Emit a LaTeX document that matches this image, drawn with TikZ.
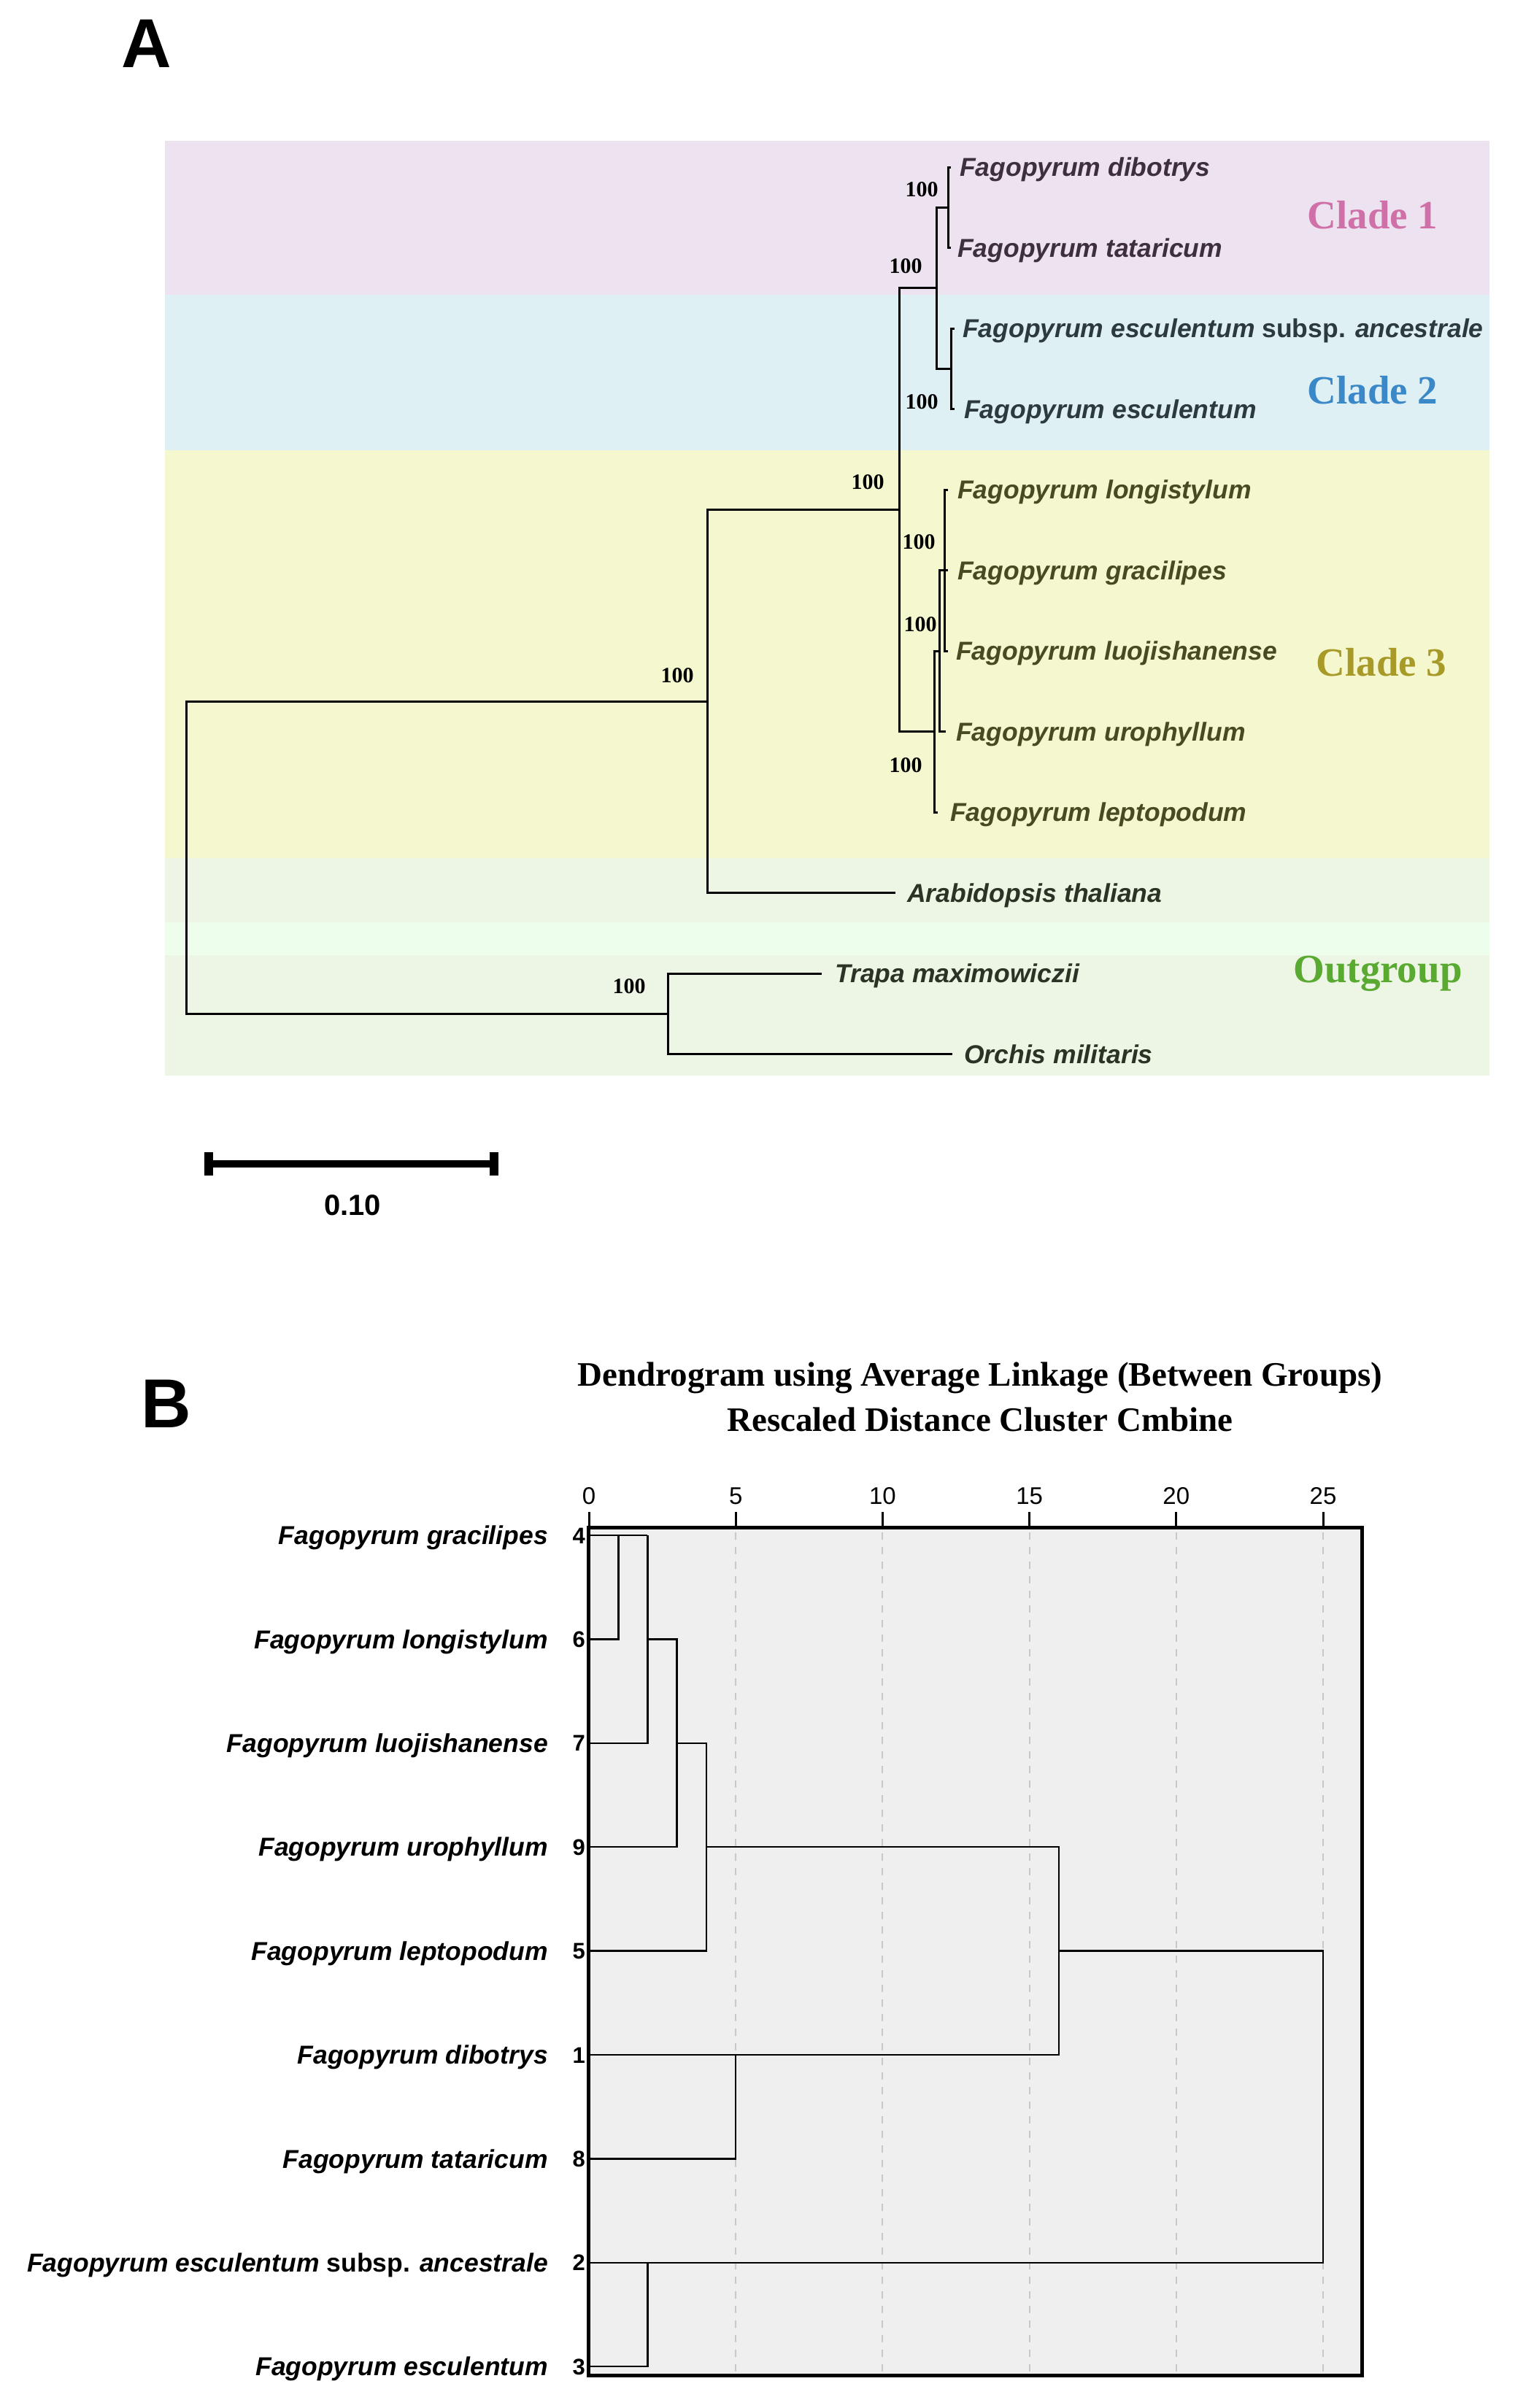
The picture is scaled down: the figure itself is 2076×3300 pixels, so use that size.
\documentclass[tikz,border=0pt]{standalone}
\usepackage{fontspec}
\setmainfont{Liberation Serif}
\setsansfont{Liberation Sans}
\newfontfamily\arialf{Liberation Sans}
\definecolor{bpur}{HTML}{EDE2EF}
\definecolor{bblu}{HTML}{DFF0F5}
\definecolor{byel}{HTML}{F5F7CF}
\definecolor{bgrn}{HTML}{EDF5E5}
\definecolor{bgrl}{HTML}{EDFEEC}
\definecolor{cpink}{HTML}{D070A8}
\definecolor{cblue}{HTML}{3A88C8}
\definecolor{colive}{HTML}{A89A28}
\definecolor{cgreen}{HTML}{5AAA32}
\definecolor{tone}{HTML}{3D2F3D}
\definecolor{ttwo}{HTML}{2C3A3E}
\definecolor{tthree}{HTML}{4A4A22}
\definecolor{tfour}{HTML}{2B3326}
\definecolor{boxgray}{HTML}{EFEFEF}
\definecolor{gridgray}{HTML}{C8C8C8}
\tikzset{
  leaf/.style={anchor=base west, inner sep=0pt, font=\arialf\bfseries\itshape\fontsize{35.5}{40}\selectfont},
  rowlab/.style={anchor=base east, inner sep=0pt, font=\arialf\bfseries\itshape\fontsize{35.5}{40}\selectfont},
  rownum/.style={anchor=base east, inner sep=0pt, font=\arialf\bfseries\fontsize{31}{33}\selectfont},
  boot/.style={anchor=center, inner sep=0pt, font=\bfseries\fontsize{30}{31}\selectfont},
  cladelab/.style={anchor=base, inner sep=0pt, font=\bfseries\fontsize{55}{60}\selectfont},
  panel/.style={anchor=center, inner sep=0pt, font=\arialf\bfseries\fontsize{95}{100}\selectfont},
  branch/.style={line width=3pt, line join=miter},
  dend/.style={line width=2.5pt, line join=miter},
  ticklab/.style={anchor=center, inner sep=0pt, font=\arialf\fontsize{33}{35}\selectfont},
  title/.style={anchor=base, inner sep=0pt, font=\bfseries\fontsize{47}{52}\selectfont},
}
\begin{document}
\begin{tikzpicture}[x=1pt,y=-1pt]
\useasboundingbox[fill=white] (0,0) rectangle (2076,3300);

% ---------------- Panel A ----------------
\node[panel] (labA) at (200.5,60) {A};

% background bands
\fill[bpur] (226,193) rectangle (2041,404);
\fill[bblu] (226,404) rectangle (2041,617);
\fill[byel] (226,617) rectangle (2041,1176);
\fill[bgrn] (226,1176) rectangle (2041,1264);
\fill[bgrl] (226,1264) rectangle (2041,1309);
\fill[bgrn] (226,1309) rectangle (2041,1474);

% leaf tips
\coordinate (t-dib) at (1303,229);
\coordinate (t-tat) at (1303,339.5);
\coordinate (t-anc) at (1308,450);
\coordinate (t-esc) at (1308,560.5);
\coordinate (t-lon) at (1299,671);
\coordinate (t-gra) at (1299,781.5);
\coordinate (t-luo) at (1299,892);
\coordinate (t-uro) at (1296,1002.5);
\coordinate (t-lep) at (1285,1113);
\coordinate (t-ara) at (1226.5,1223.5);
\coordinate (t-tra) at (1126,1334);
\coordinate (t-orc) at (1305,1444.5);

% internal nodes
\coordinate (n1) at (1299,284.25);
\coordinate (n2) at (1303.5,505.25);
\coordinate (n12) at (1283.5,394.75);
\coordinate (n3a) at (1294,781.5);
\coordinate (n3b) at (1287,892);
\coordinate (n3c) at (1280.5,1002.5);
\coordinate (n123) at (1232,698.6);
\coordinate (na) at (969.5,961);
\coordinate (no) at (915,1389.25);
\coordinate (root) at (255.6,1175);

% branches
\draw[branch] (t-dib) -| (n1) |- (t-tat);
\draw[branch] (t-anc) -| (n2) |- (t-esc);
\draw[branch] (n1) -| (n12) |- (n2);
\draw[branch] (t-lon) -| (n3a) |- (t-luo);
\draw[branch] (n3a) -- (t-gra);
\draw[branch] (n3a) -| (n3b) |- (t-uro);
\draw[branch] (n3b) -| (n3c) |- (t-lep);
\draw[branch] (n12) -| (n123) |- (n3c);
\draw[branch] (n123) -| (na) |- (t-ara);
\draw[branch] (t-tra) -| (no) |- (t-orc);
\draw[branch] (na) -| (root) |- (no);

% leaf labels
\node[leaf, text=tone] (l-dib) at (1315,241.7) {Fagopyrum dibotrys};
\node[leaf, text=tone] (l-tat) at (1312,352.2) {Fagopyrum tataricum};
\node[leaf, text=ttwo] (l-anc) at (1319,462.7) {Fagopyrum esculentum \upshape subsp. \itshape ancestrale};
\node[leaf, text=ttwo] (l-esc) at (1321,573.2) {Fagopyrum esculentum};
\node[leaf, text=tthree] (l-lon) at (1312,683.7) {Fagopyrum longistylum};
\node[leaf, text=tthree] (l-gra) at (1312,794.2) {Fagopyrum gracilipes};
\node[leaf, text=tthree] (l-luo) at (1310,904.7) {Fagopyrum luojishanense};
\node[leaf, text=tthree] (l-uro) at (1310,1015.2) {Fagopyrum urophyllum};
\node[leaf, text=tthree] (l-lep) at (1302,1125.7) {Fagopyrum leptopodum};
\node[leaf, text=tfour] (l-ara) at (1243,1236.2) {Arabidopsis thaliana};
\node[leaf, text=tfour] (l-tra) at (1144,1346.7) {Trapa maximowiczii};
\node[leaf, text=tfour] (l-orc) at (1321,1457.2) {Orchis militaris};

% bootstrap values
\node[boot] (b1) at (1263,260) {100};
\node[boot] (b12) at (1241,365) {100};
\node[boot] (b2) at (1263,551) {100};
\node[boot] (b123) at (1189,661) {100};
\node[boot] (b3a) at (1259,743) {100};
\node[boot] (b3b) at (1261,856) {100};
\node[boot] (b3c) at (1241,1049) {100};
\node[boot] (bA) at (928,926) {100};
\node[boot] (bO) at (862,1352) {100};

% clade labels
\node[cladelab, text=cpink] (c1) at (1881,313) {Clade 1};
\node[cladelab, text=cblue] (c2) at (1881,553) {Clade 2};
\node[cladelab, text=colive] (c3) at (1893,926) {Clade 3};
\node[cladelab, text=cgreen] (c4) at (1888,1346) {Outgroup};

% scale bar
\fill (279.5,1590) rectangle (683,1600);
\fill (279.5,1579) rectangle (292,1611);
\fill (671,1579) rectangle (683,1611);
\node[anchor=center, inner sep=0pt, font=\arialf\bfseries\fontsize{40}{42}\selectfont] (sbar) at (483,1652) {0.10};

% ---------------- Panel B ----------------
\node[panel] (labB) at (227.5,1924) {B};
\node[title] (ti1) at (1343,1899) {Dendrogram using Average Linkage (Between Groups)};
\node[title] (ti2) at (1343,1961) {Rescaled Distance Cluster Cmbine};

% box
\fill[boxgray] (806,2093) rectangle (1866,3255);
\foreach \d in {5,10,15,20,25} {
  \draw[gridgray, line width=2pt, dash pattern=on 10pt off 10pt] ({807+40.24*\d},2100) -- ({807+40.24*\d},3252);
}
% axis ticks and labels
\foreach \d in {0,5,10,15,20,25} {
  \draw[line width=3pt] ({807+40.24*\d},2072) -- ({807+40.24*\d},2093);
  \node[ticklab] at ({807+40.24*\d},2050) {\d};
}

% rows
\coordinate (r0) at (807,2104);
\coordinate (r1) at (807,2246.4);
\coordinate (r2) at (807,2388.8);
\coordinate (r3) at (807,2531.2);
\coordinate (r4) at (807,2673.6);
\coordinate (r5) at (807,2816);
\coordinate (r6) at (807,2958.4);
\coordinate (r7) at (807,3100.8);
\coordinate (r8) at (807,3243.2);

% dendrogram
\draw[dend] (r0) -- (887.48,2104);
\draw[dend] (r1) -- (847.24,2246.4) -- (847.24,2104);
\draw[dend] (887.48,2104) -- (887.48,2388.8) -- (r2);
\draw[dend] (887.48,2246.4) -- (927.72,2246.4) -- (927.72,2531.2) -- (r3);
\draw[dend] (927.72,2388.8) -- (967.96,2388.8) -- (967.96,2673.6) -- (r4);
\draw[dend] (967.96,2531.2) -- (1450.84,2531.2) -- (1450.84,2816) -- (r5);
\draw[dend] (r6) -- (1008.2,2958.4) -- (1008.2,2816);
\draw[dend] (1450.84,2673.6) -- (1813,2673.6) -- (1813,3100.8) -- (r7);
\draw[dend] (887.48,3100.8) -- (887.48,3243.2) -- (r8);

\draw[line width=5pt] (806,2093) rectangle (1866,3255);

% row labels
\node[rowlab] (rl0) at (751,2116.7) {Fagopyrum gracilipes};
\node[rowlab] (rl1) at (751,2259.1) {Fagopyrum longistylum};
\node[rowlab] (rl2) at (751,2401.5) {Fagopyrum luojishanense};
\node[rowlab] (rl3) at (751,2543.9) {Fagopyrum urophyllum};
\node[rowlab] (rl4) at (751,2686.3) {Fagopyrum leptopodum};
\node[rowlab] (rl5) at (751,2828.7) {Fagopyrum dibotrys};
\node[rowlab] (rl6) at (751,2971.1) {Fagopyrum tataricum};
\node[rowlab] (rl7) at (751,3113.5) {Fagopyrum esculentum \upshape subsp. \itshape ancestrale};
\node[rowlab] (rl8) at (751,3255.9) {Fagopyrum esculentum};

\node[rownum] (rn0) at (802,2115) {4};
\node[rownum] (rn1) at (802,2257.4) {6};
\node[rownum] (rn2) at (802,2399.8) {7};
\node[rownum] (rn3) at (802,2542.2) {9};
\node[rownum] (rn4) at (802,2684.6) {5};
\node[rownum] (rn5) at (802,2827) {1};
\node[rownum] (rn6) at (802,2969.4) {8};
\node[rownum] (rn7) at (802,3111.8) {2};
\node[rownum] (rn8) at (802,3254.2) {3};
\end{tikzpicture}
\end{document}
